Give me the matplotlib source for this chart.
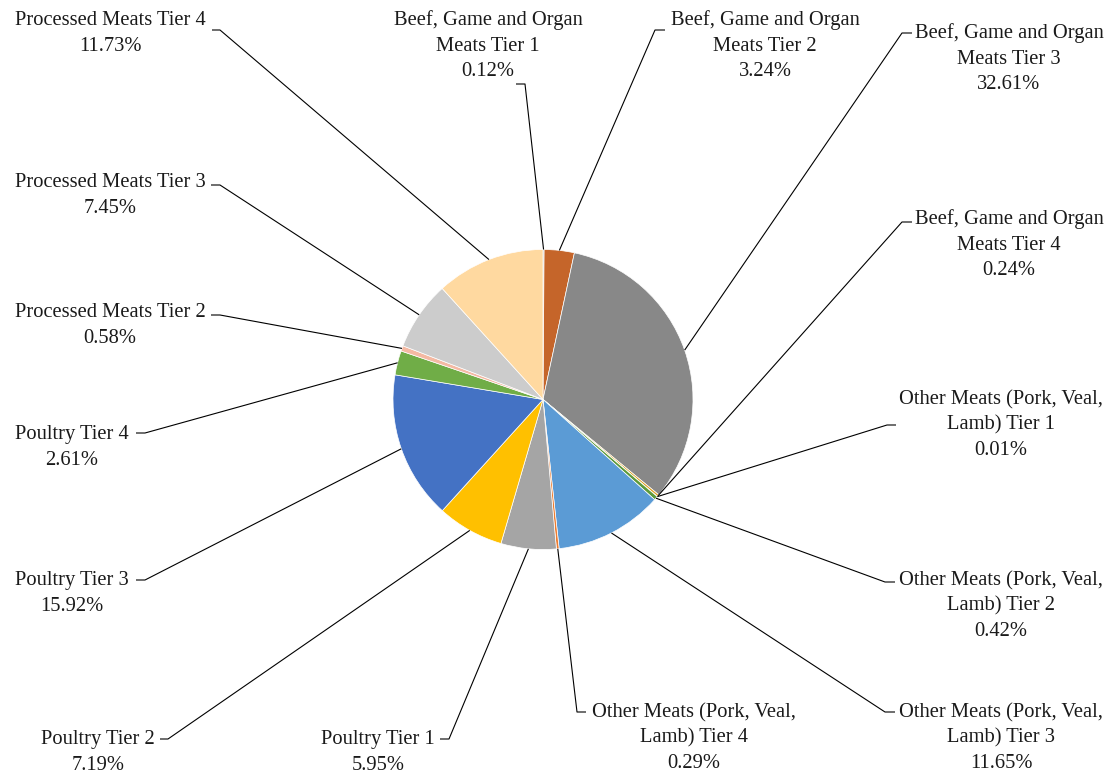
import matplotlib
matplotlib.use("Agg")
import matplotlib.pyplot as plt
import numpy as np

# ---- data ----
categories = [
    "Beef, Game and Organ\nMeats Tier 1",
    "Beef, Game and Organ\nMeats Tier 2",
    "Beef, Game and Organ\nMeats Tier 3",
    "Beef, Game and Organ\nMeats Tier 4",
    "Other Meats (Pork, Veal,\nLamb) Tier 1",
    "Other Meats (Pork, Veal,\nLamb) Tier 2",
    "Other Meats (Pork, Veal,\nLamb) Tier 3",
    "Other Meats (Pork, Veal,\nLamb) Tier 4",
    "Poultry Tier 1",
    "Poultry Tier 2",
    "Poultry Tier 3",
    "Poultry Tier 4",
    "Processed Meats Tier 2",
    "Processed Meats Tier 3",
    "Processed Meats Tier 4",
]
values = [0.12, 3.24, 32.61, 0.24, 0.01, 0.42, 11.65, 0.29,
          5.95, 7.19, 15.92, 2.61, 0.58, 7.45, 11.73]
colors = ["#9E9E9E", "#C5652A", "#888888", "#E0A020", "#4472C4", "#5E9A3A",
          "#5B9BD5", "#ED7D31", "#A5A5A5", "#FFC000", "#4472C4", "#70AD47",
          "#F4B9A3", "#CCCCCC", "#FFD9A0"]

# ---- layout (pixel coords, y from top) ----
W, H = 1115, 774
CX, CY, R = 543, 399.5, 150
# (text center x, first line y, stub x near text, elbow x, stub y)
label_layout = [
    (488, 18, 516, 525, 84),
    (765, 18, 665, 655, 30),
    (1009, 31, 912, 902, 33),
    (1009, 217, 912, 902, 222),
    (1001, 397, 896, 887, 425),
    (1001, 578, 895, 885, 582),
    (1001, 710, 895, 885, 712),
    (694, 710, 586, 577, 712),
    (378, 737, 440, 449, 739),
    (98, 737, 160, 168, 739),
    (72, 578, 136, 145, 580),
    (72, 432, 136, 145, 433),
    (110, 310, 211, 220, 315),
    (110, 180, 211, 220, 185),
    (110, 18, 212, 220, 30),
]

fig = plt.figure(figsize=(W / 100, H / 100), dpi=100)
ax = fig.add_axes([0, 0, 1, 1])
wedges, _ = ax.pie(values, colors=colors, startangle=90, counterclock=False,
                   center=(CX, H - CY), radius=R, frame=False,
                   wedgeprops=dict(edgecolor="white", linewidth=0.5))
ax.set_xlim(0, W)
ax.set_ylim(0, H)
ax.set_aspect("equal")
ax.axis("off")

LINE_H = 25.7
for w, name, val, (tx, ty, sx, ex, sy) in zip(wedges, categories, values, label_layout):
    th = np.deg2rad((w.theta1 + w.theta2) / 2)
    px = w.center[0] + w.r * np.cos(th)
    py = w.center[1] + w.r * np.sin(th)
    ax.plot([px, ex, sx], [py, H - sy, H - sy], color="black", lw=0.8,
            solid_capstyle="butt", zorder=3)
    lines = name.split("\n") + [f"{val:.2f}%"]
    for i, ln in enumerate(lines):
        ax.text(tx, H - (ty + i * LINE_H) - 7, ln, ha="center", va="baseline",
                fontsize=14.8, family="Liberation Serif", color="#1a1a1a")

fig.savefig("out.png", dpi=100, facecolor="white")
